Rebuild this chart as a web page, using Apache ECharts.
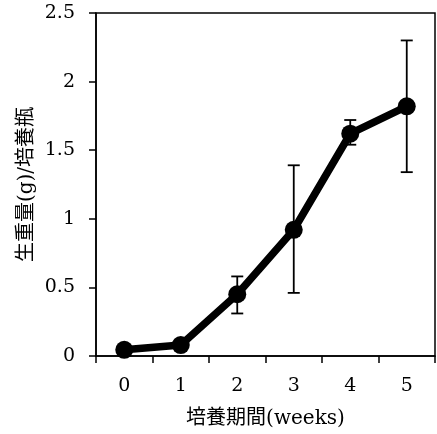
<!DOCTYPE html>
<html>
<head>
<meta charset="utf-8">
<script src="https://cdn.jsdelivr.net/npm/echarts@6/dist/echarts.min.js"></script>
<style>
    html, body { margin: 0; padding: 0; background: #fff; }
    #main { width: 437px; height: 434px; }
</style>
</head>
<body>
<div id="main"></div>
<script>
// weeks of culture
var weeks = ['0', '1', '2', '3', '4', '5'];
// fresh weight (g) per flask
var meanWeight = [0.045, 0.08, 0.45, 0.92, 1.62, 1.82];
var errLow = [0.03, 0.07, 0.31, 0.46, 1.54, 1.34];
var errHigh = [0.06, 0.09, 0.58, 1.39, 1.72, 2.30];
var yTicks = [0, 0.5, 1, 1.5, 2, 2.5];

var latin = '"DejaVu Serif", "Noto Sans CJK JP", serif';

var errData = weeks.map(function (w, i) {
    return [i, errLow[i], errHigh[i]];
});

var chart = echarts.init(document.getElementById('main'));

chart.setOption({
    animation: false,
    backgroundColor: '#fff',
    grid: {
        left: 96,
        right: 2,
        top: 13,
        bottom: 77,
        show: true,
        borderColor: '#000',
        borderWidth: 1.5
    },
    xAxis: {
        type: 'category',
        data: weeks,
        boundaryGap: true,
        name: '培養期間(weeks)',
        nameLocation: 'middle',
        nameGap: 53,
        nameMoveOverlap: false,
        nameTextStyle: { color: '#000', fontSize: 20, fontFamily: latin },
        axisLine: { lineStyle: { color: '#000', width: 1.5 } },
        axisTick: { show: true, alignWithLabel: false, length: 7, lineStyle: { color: '#000', width: 1.5 } },
        axisLabel: { color: '#000', fontSize: 19, fontFamily: latin, margin: 21 },
        splitLine: { show: false }
    },
    yAxis: {
        type: 'value',
        min: yTicks[0],
        max: yTicks[yTicks.length - 1],
        interval: 0.5,
        name: '生重量(g)/培養瓶',
        nameLocation: 'middle',
        nameGap: 59,
        nameMoveOverlap: false,
        nameRotate: 90,
        nameTextStyle: { color: '#000', fontSize: 20, fontFamily: latin },
        axisLine: { show: true, lineStyle: { color: '#000', width: 1.5 } },
        axisTick: { show: true, length: 7, lineStyle: { color: '#000', width: 1.5 } },
        axisLabel: { color: '#000', fontSize: 19, fontFamily: latin, margin: 21 },
        splitLine: { show: false }
    },
    series: [
        {
            type: 'custom',
            z: 1,
            data: errData,
            renderItem: function (params, api) {
                var x = api.value(0);
                var lo = api.coord([x, api.value(1)]);
                var hi = api.coord([x, api.value(2)]);
                var cap = 6;
                var st = { stroke: '#000', lineWidth: 1.8 };
                return {
                    type: 'group',
                    children: [
                        { type: 'line', shape: { x1: lo[0], y1: lo[1], x2: hi[0], y2: hi[1] }, style: st },
                        { type: 'line', shape: { x1: hi[0] - cap, y1: hi[1], x2: hi[0] + cap, y2: hi[1] }, style: st },
                        { type: 'line', shape: { x1: lo[0] - cap, y1: lo[1], x2: lo[0] + cap, y2: lo[1] }, style: st }
                    ]
                };
            }
        },
        {
            type: 'line',
            z: 3,
            data: meanWeight,
            symbol: 'circle',
            symbolSize: 18,
            itemStyle: { color: '#000' },
            lineStyle: { color: '#000', width: 7.5 }
        }
    ]
});
</script>
</body>
</html>
